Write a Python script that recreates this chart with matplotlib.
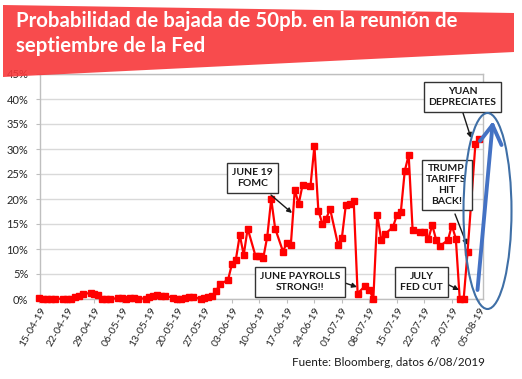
import pandas as pd
import matplotlib
matplotlib.use('Agg')
import matplotlib.pyplot as plt
from matplotlib.patches import Polygon, Ellipse

plt.rcParams['font.family'] = ['Lato', 'DejaVu Sans']

W, H = 522, 379

# probability (%) of a 50bp cut in September, one value per day (Sun-Fri), week by week
week_values = [
    [0.2, 0.1, 0.1, 0.1, 0.1],             # 15-04 .. 19-04
    [0.0, 0.1, 0.1, 0.4, 0.6, 1.0],        # 21-04 .. 26-04
    [1.2, 1.0, 0.9, 0.1, 0.0, 0.0],
    [0.2, 0.2, 0.1, 0.2, 0.2, 0.1],
    [0.1, 0.5, 0.6, 0.9, 0.7, 0.6],
    [0.3, 0.1, 0.1, 0.2, 0.5, 0.5],
    [0.0, 0.3, 0.5, 0.6, 1.7, 3.0],
    [3.8, 7.0, 7.9, 12.8, 8.8, 14.1],      # 02-06 .. 07-06
    [8.6, 8.6, 8.3, 12.5, 20.0, 14.1],
    [9.5, 11.3, 10.9, 21.8, 19.0, 22.9],
    [22.6, 30.6, 17.7, 15.1, 16.1, 18.0],
    [10.9, 12.3, 18.8, 19.1, 19.7, 1.1],
    [2.7, 1.8, 0.0, 16.8, 11.9, 13.0],
    [14.4, 16.8, 17.4, 25.6, 28.8, 13.8],
    [13.4, 13.5, 12.0, 14.8, 11.8, 10.6],
    [11.8, 14.7, 12.1, 0.0, 0.0, 9.5],     # 28-07 .. 02-08
    [31.1, 32.1],                          # 04-08, 05-08
]
values = [v for w in week_values for v in w]

days = pd.date_range('2019-04-15', '2019-08-05')
days = days[days.dayofweek != 5]   # no saturdays in the series

tick_days = pd.date_range('2019-04-15', '2019-08-05', freq='7D')

title_lines = ["Probabilidad de bajada de 50pb. en la reunión de",
               "septiembre de la Fed"]
source = "Fuente: Bloomberg, datos 6/08/2019"

# annotation boxes: text, box centre (px), arrow tail (px), arrow head (px)
notes = [
    ("JUNE 19\nFOMC", (252.5, 178), (271, 195), (292, 213)),
    ("JUNE PAYROLLS\nSTRONG!!", (300, 282), (339, 281), (357, 287)),
    ("YUAN\nDEPRECIATES", (462.5, 97), (463, 113), (471, 138)),
    ("TRUMP\nTARIFFS\nHIT\nBACK!", (446.5, 185), (455, 214), (467, 245)),
    ("JULY\nFED CUT", (421.5, 282), (447, 284), (459, 290)),
]


def fp(x, y):
    return (x / W, 1 - y / H)


fig = plt.figure(figsize=(W / 100, H / 100), dpi=100)
ax = fig.add_axes([39.5 / W, 1 - 299 / H, (483.3 - 39.5) / W, (299 - 74) / H])

ax.plot(days, values, color='#FF0000', lw=1.6, marker='s', ms=4,
        mec='#FF0000', mfc='#FF0000', zorder=3, clip_on=False)

ax.set_xlim(pd.Timestamp('2019-04-15'), pd.Timestamp('2019-08-06'))
ax.set_ylim(0, 45)
ax.set_yticks(range(0, 46, 5))
ax.set_yticklabels([f"{v}%" for v in range(0, 46, 5)], fontsize=8, color='#262626')
ax.set_xticks(tick_days)
ax.set_xticklabels([d.strftime('%d-%m-%y') for d in tick_days], fontsize=7.5,
                   color='#262626', rotation=60, ha='right', rotation_mode='anchor')
ax.grid(axis='y', color='#D9D9D9', lw=1)
ax.set_axisbelow(True)
for s in ax.spines.values():
    s.set_color('#BFBFBF')
    s.set_linewidth(1)
ax.tick_params(axis='both', length=3, color='#BFBFBF', pad=2)
ax.tick_params(axis='y', pad=5)

for text, c, tail, head in notes:
    fig.text(*fp(*c), text, ha='center', va='center', fontsize=7.5,
             fontweight='bold', color='#1a1a1a', linespacing=1.25,
             bbox=dict(boxstyle='square,pad=0.45', fc='white', ec='#333333', lw=1),
             zorder=5)
    ax.annotate('', xy=fp(*head), xytext=fp(*tail), xycoords='figure fraction',
                textcoords='figure fraction',
                arrowprops=dict(arrowstyle='-|>', color='#1a1a1a', lw=1,
                                mutation_scale=7, shrinkA=0, shrinkB=0),
                zorder=6)

# blue ellipse and hand-drawn arrow
ell = Ellipse(fp(487.5, 211), 48 / W, 196 / H, transform=fig.transFigure,
              fill=False, ec='#3F6FA6', lw=1.5, zorder=6)
fig.patches.append(ell)
blue = '#4472C4'
for (x0, y0), (x1, y1) in [((477.5, 290), (492.5, 125)),
                           ((492.5, 125), (480, 141)),
                           ((492.5, 125), (501.5, 145))]:
    fig.add_artist(plt.Line2D([x0 / W, x1 / W], [1 - y0 / H, 1 - y1 / H],
                              transform=fig.transFigure, color=blue, lw=2.8,
                              solid_capstyle='round', zorder=7))

# title banner
banner = Polygon([fp(3, 5), fp(514, 13), fp(514, 52), fp(3, 77)], closed=True,
                 transform=fig.transFigure, fc='#F8373A', ec='none', alpha=0.9, zorder=8)
fig.patches.append(banner)
fig.text(*fp(16, 21), title_lines[0], color='white', fontsize=14.7, fontweight='bold',
         va='center', ha='left', zorder=9)
fig.text(*fp(16, 46), title_lines[1], color='white', fontsize=14.7, fontweight='bold',
         va='center', ha='left', zorder=9)

fig.text(*fp(485, 362), source, ha='right', va='center', fontsize=8.4, color='#1a1a1a')

fig.savefig('out.png', dpi=100)
